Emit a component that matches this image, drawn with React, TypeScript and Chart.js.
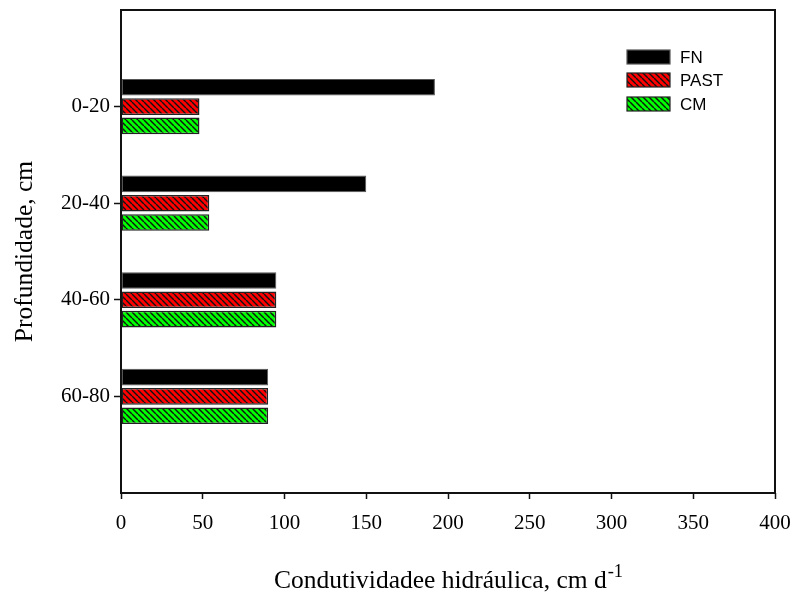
import React, { useEffect, useRef } from "react";
import { Chart, registerables } from "chart.js";

Chart.register(...registerables);

// Depth classes (blank slots above and below keep the groups away from the frame)
const depths = ["", "0-20", "20-40", "40-60", "60-80", ""];
const seriesNames = ["FN", "PAST", "CM"];
const fnValues = [null, 192, 150, 95, 90, null];
const pastValues = [null, 48, 54, 95, 90, null];
const cmValues = [null, 48, 54, 95, 90, null];
const xTicks = [0, 50, 100, 150, 200, 250, 300, 350, 400];

const xTitle = "Condutividadee hidráulica, cm d";
const xTitleSup = "-1";
const yTitle = "Profundidade, cm";

const SERIF = "'Liberation Serif', 'Times New Roman', serif";
const SANS = "'Liberation Sans', Arial, sans-serif";

function hatch(ctx: CanvasRenderingContext2D, bg: string): CanvasPattern | string {
  const s = 6;
  const c = document.createElement("canvas");
  c.width = s;
  c.height = s;
  const g = c.getContext("2d");
  if (!g) return bg;
  g.fillStyle = bg;
  g.fillRect(0, 0, s, s);
  g.strokeStyle = "#111";
  g.lineWidth = 1.4;
  g.beginPath();
  for (const o of [-s, 0, s]) {
    g.moveTo(o, 0);
    g.lineTo(o + s, s);
  }
  g.stroke();
  return ctx.createPattern(c, "repeat") || bg;
}

export default function App() {
  const ref = useRef<HTMLCanvasElement | null>(null);

  useEffect(() => {
    const canvas = ref.current;
    if (!canvas) return;
    const ctx = canvas.getContext("2d");
    if (!ctx) return;

    const redFill = hatch(ctx, "#ff0000");
    const greenFill = hatch(ctx, "#00ff00");
    const fills: (string | CanvasPattern)[] = ["#000000", redFill, greenFill];

    const decor = {
      id: "decor",
      afterDraw(chart: any) {
        const { ctx: c, chartArea: a } = chart;
        c.save();
        // frame
        c.strokeStyle = "#111";
        c.lineWidth = 2;
        c.strokeRect(a.left, a.top, a.right - a.left, a.bottom - a.top);

        // legend
        const bx = 627;
        const bw = 43;
        const bh = 14;
        const rows = [50, 73, 97];
        c.font = `17px ${SANS}`;
        c.textBaseline = "middle";
        c.textAlign = "left";
        seriesNames.forEach((name, i) => {
          const y = rows[i];
          c.fillStyle = fills[i] as any;
          c.fillRect(bx, y, bw, bh);
          c.lineWidth = 1.2;
          c.strokeStyle = i === 0 ? "#555" : "#222";
          c.strokeRect(bx, y, bw, bh);
          c.fillStyle = "#000";
          c.fillText(name, 680, y + bh / 2 + 1);
        });

        // x title with superscript
        c.fillStyle = "#000";
        c.textBaseline = "alphabetic";
        c.font = `25.5px ${SERIF}`;
        const mainW = c.measureText(xTitle).width;
        c.font = `18.5px ${SERIF}`;
        const supW = c.measureText(xTitleSup).width;
        const cx = (a.left + a.right) / 2;
        const x0 = cx - (mainW + supW) / 2;
        c.font = `25.5px ${SERIF}`;
        c.textAlign = "left";
        c.fillText(xTitle, x0, 588);
        c.font = `18.5px ${SERIF}`;
        c.fillText(xTitleSup, x0 + mainW + 1, 577);

        // y title
        c.translate(32, (a.top + a.bottom) / 2);
        c.rotate(-Math.PI / 2);
        c.font = `25.5px ${SERIF}`;
        c.textAlign = "center";
        c.fillText(yTitle, 0, 0);
        c.restore();
      },
    };

    const hideEnds = (ctxt: any) =>
      ctxt.index === 0 || ctxt.index === depths.length - 1 ? "rgba(0,0,0,0)" : "#111";

    const chart = new Chart(ctx, {
      type: "bar",
      data: {
        labels: depths,
        datasets: [
          { label: seriesNames[0], data: fnValues, backgroundColor: fills[0] as any, borderColor: "#555", borderWidth: 1, borderSkipped: false },
          { label: seriesNames[1], data: pastValues, backgroundColor: fills[1] as any, borderColor: "#222", borderWidth: 1.5, borderSkipped: false },
          { label: seriesNames[2], data: cmValues, backgroundColor: fills[2] as any, borderColor: "#222", borderWidth: 1.5, borderSkipped: false },
        ],
      },
      options: {
        indexAxis: "y",
        responsive: false,
        animation: false,
        events: [],
        layout: { padding: { left: 0, top: 10, right: 18, bottom: 0 } },
        datasets: { bar: { categoryPercentage: 0.6, barPercentage: 0.86 } },
        plugins: {
          legend: { display: false },
          tooltip: { enabled: false },
          title: { display: false },
        },
        scales: {
          x: {
            type: "linear",
            min: 0,
            max: 400,
            afterBuildTicks: (s: any) => {
              s.ticks = xTicks.map((v) => ({ value: v }));
            },
            afterFit: (s: any) => {
              s.height = 103;
              s.paddingLeft = 0;
              s.paddingRight = 0;
            },
            border: { display: false },
            grid: { drawOnChartArea: false, drawTicks: true, tickLength: 6, tickWidth: 1.5, tickColor: "#111" },
            ticks: { color: "#000", padding: 12, font: { family: SERIF, size: 21 }, maxRotation: 0 },
          },
          y: {
            type: "category",
            offset: false,
            afterFit: (s: any) => {
              s.width = 121;
              s.paddingTop = 0;
              s.paddingBottom = 0;
            },
            border: { display: false },
            grid: { offset: false, drawOnChartArea: false, drawTicks: true, tickLength: 7, tickWidth: 1.5, tickColor: hideEnds },
            ticks: { color: "#000", padding: 4, autoSkip: false, font: { family: SERIF, size: 21 } },
          },
        },
      },
      plugins: [decor],
    });

    return () => chart.destroy();
  }, []);

  return (
    <div style={{ position: "absolute", left: 0, top: 0, width: 793, height: 596, background: "#fff" }}>
      <canvas ref={ref} width={793} height={596} />
    </div>
  );
}
